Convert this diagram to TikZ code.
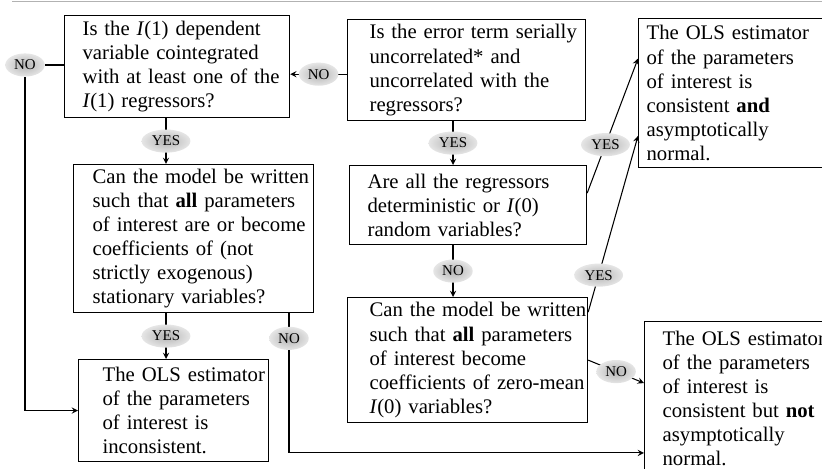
\documentclass[tikz,border=0pt]{standalone}
\usepackage{fontspec}
\setmainfont{Liberation Serif}
\usepackage{tikz}
\usetikzlibrary{positioning}
\usetikzlibrary{shapes.geometric}
\usetikzlibrary{arrows, calc}

\begin{document}
\begin{tikzpicture}[x=0.02cm, y=-0.02cm,
		question/.style n args={3}{
			draw,
			line width=0.7pt,
			anchor=north west,
			align=left,
			inner xsep=0pt,
			inner ysep=0pt,
			text width=#1,
			minimum height=#2,
			execute at begin node={\leftskip=#3\rightskip=-8pt plus 1fil},
			font=\fontsize{11.8}{13.7}\selectfont
		},
		answer/.style={
			ellipse,
			inner color=gray!60,
			outer color=gray!20,
			inner sep=1.8pt,
			font=\fontsize{8.5}{9}\selectfont
		}, line width=0.6pt, >=stealth]
		\clip (0,0) rectangle (822,469);
		\draw[gray!60, line width=0.4pt] (12,1.5) -- (822,1.5);
		
		\node[question={4.5cm}{2.04cm}{0.36cm}] (coint) at (64,15) {Is the \textit{I}(1) dependent\\ variable cointegrated\\ with at least one of the\\ \textit{I}(1) regressors?};
		\node[question={4.76cm}{2.02cm}{0.44cm}] (error) at (347,19) {Is the error term serially\\ uncorrelated* and\\ uncorrelated with the\\ regressors?};
		\node[question={4cm}{2.98cm}{0.16cm}] (consAN) at (638,18) {The OLS estimator\\ of the parameters\\ of interest is\\ consistent \textbf{and}\\ asymptotically\\ normal.};
		\node[question={4.8cm}{2.96cm}{0.38cm}] (written) at (73,164) {Can the model be written\\ such that \textbf{all} parameters\\ of interest are or become\\ coefficients of (not\\ strictly exogenous)\\ stationary variables?};
		\node[question={4.74cm}{1.58cm}{0.36cm}] (determ) at (349,165) {Are all the regressors\\ deterministic or \textit{I}(0)\\ random variables?};
		\node[question={4.8cm}{2.5cm}{0.44cm}] (zeromean) at (347,297) {Can the model be written\\ such that \textbf{all} parameters\\ of interest become\\ coefficients of zero-mean\\ \textit{I}(0) variables?};
		\node[question={3.8cm}{2.04cm}{0.48cm}] (incons) at (78,359) {The OLS estimator\\ of the parameters\\ of interest is\\ inconsistent.};
		\node[question={4.12cm}{3.08cm}{0.36cm}] (consNAN) at (644,321) {The OLS estimator\\ of the parameters\\ of interest is\\ consistent but \textbf{not}\\ asymptotically\\ normal.};
		
		\coordinate (colA) at (166,0);
		\coordinate (colB) at (453,0);
		\coordinate (colD) at (289,0);
		\coordinate (outB) at ($(error.north west)!0.54!(error.south west)$);
		\coordinate (intoH) at ($(consNAN.north west)!0.85!(consNAN.south west)$);
		
		\node[answer] (noA) at (25,65) {NO};
		\draw (noA) -- (noA -| coint.west);
		\draw[->] (noA.south) |- (incons.west);
		
		\draw[->] (outB) -- node[answer]{NO} (outB -| coint.east);
		\draw[->] (coint.south -| colA) -- node[answer]{YES} (written.north -| colA);
		\draw[->] (written.south -| colA) -- node[answer]{YES} (incons.north -| colA);
		\draw[->] (error.south -| colB) -- node[answer]{YES} (determ.north -| colB);
		\draw[->] (determ.south -| colB) -- node[answer]{NO} (zeromean.north -| colB);
		
		\draw[->] ($(determ.north east)!0.35!(determ.south east)$) -- node[answer, pos=0.36]{YES} ($(consAN.north west)!0.27!(consAN.south west)$);
		\draw[->] ($(zeromean.north east)!0.12!(zeromean.south east)$) -- node[answer, pos=0.21]{YES} ($(consAN.north west)!0.785!(consAN.south west)$);
		\draw[->] (zeromean.east) -- node[answer]{NO} ($(consNAN.north west)!0.4!(consNAN.south west)$);
		\draw[->] (written.south -| colD) -- node[answer, pos=0.18]{NO} (colD |- intoH) -- (intoH);
	\end{tikzpicture}
\end{document}
